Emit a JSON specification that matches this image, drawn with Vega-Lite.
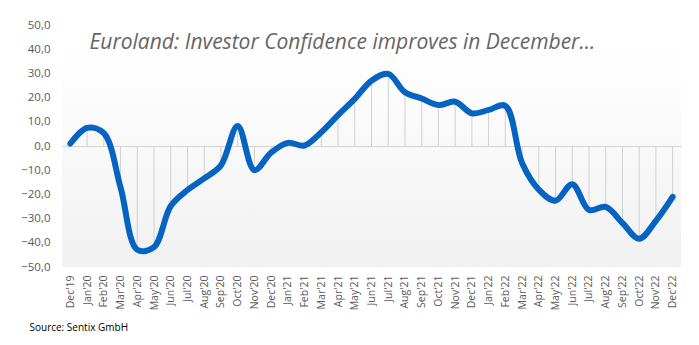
{
  "$schema": "https://vega.github.io/schema/vega-lite/v6.json",
  "width": 619,
  "height": 242,
  "autosize": {"type": "none"},
  "padding": {"left": 62, "top": 25, "right": 18, "bottom": 78},
  "background": "white",
  "config": {
    "view": {
      "stroke": null,
      "fill": {
        "gradient": "linear",
        "x1": 0, "y1": 0, "x2": 0, "y2": 1,
        "stops": [
          {"offset": 0, "color": "#ffffff"},
          {"offset": 0.17, "color": "#fefefe"},
          {"offset": 1, "color": "#f1f1f1"}
        ]
      }
    },
    "axis": {"domain": false, "ticks": false, "grid": false}
  },
  "data": {
    "values": [
      {"m": "Dec'19", "v": 1.0},
      {"m": "Jan'20", "v": 7.5},
      {"m": "Feb'20", "v": 5.3},
      {"m": "Mar'20", "v": -17.1},
      {"m": "Apr'20", "v": -42.9},
      {"m": "May'20", "v": -41.8},
      {"m": "Jun'20", "v": -24.8},
      {"m": "Jul'20", "v": -18.2},
      {"m": "Aug'20", "v": -13.4},
      {"m": "Sep'20", "v": -8.0},
      {"m": "Oct'20", "v": 8.3},
      {"m": "Nov'20", "v": -10.0},
      {"m": "Dec'20", "v": -2.7},
      {"m": "Jan'21", "v": 1.3},
      {"m": "Feb'21", "v": 0.2},
      {"m": "Mar'21", "v": 5.7},
      {"m": "Apr'21", "v": 12.8},
      {"m": "May'21", "v": 19.5},
      {"m": "Jun'21", "v": 27.0},
      {"m": "Jul'21", "v": 29.8},
      {"m": "Aug'21", "v": 22.2},
      {"m": "Sep'21", "v": 19.6},
      {"m": "Oct'21", "v": 16.9},
      {"m": "Nov'21", "v": 18.3},
      {"m": "Dec'21", "v": 13.5},
      {"m": "Jan'22", "v": 14.9},
      {"m": "Feb'22", "v": 16.6},
      {"m": "Mar'22", "v": -7.0},
      {"m": "Apr'22", "v": -18.0},
      {"m": "May'22", "v": -22.6},
      {"m": "Jun'22", "v": -15.8},
      {"m": "Jul'22", "v": -26.4},
      {"m": "Aug'22", "v": -25.2},
      {"m": "Sep'22", "v": -31.8},
      {"m": "Oct'22", "v": -38.3},
      {"m": "Nov'22", "v": -30.9},
      {"m": "Dec'22", "v": -21.0}
    ]
  },
  "encoding": {
    "x": {
      "field": "m",
      "type": "ordinal",
      "sort": null,
      "scale": {"type": "point", "padding": 0.5},
      "axis": {
        "labelAngle": -90,
        "labelFont": "Open Sans",
        "labelFontSize": 10.5,
        "labelColor": "#595959",
        "labelPadding": 8,
        "labelOverlap": false,
        "title": "Source: Sentix GmbH",
        "titleFont": "Open Sans",
        "titleFontSize": 10,
        "titleFontWeight": "normal",
        "titleColor": "#000000",
        "titleAnchor": "start",
        "titleAlign": "left",
        "titleX": -33,
        "titleY": 55
      }
    },
    "y": {
      "field": "v",
      "type": "quantitative",
      "scale": {"domain": [-50, 50], "nice": false, "zero": false},
      "axis": {
        "values": [-50, -40, -30, -20, -10, 0, 10, 20, 30, 40, 50],
        "labelExpr": "replace(format(datum.value, '.1f'), '.', ',')",
        "labelFont": "Open Sans",
        "labelFontSize": 11.5,
        "labelColor": "#595959",
        "labelPadding": 12,
        "labelOverlap": false,
        "grid": true,
        "gridColor": {"condition": {"test": "datum.value === 0", "value": "#d4d4d4"}, "value": "transparent"},
        "gridWidth": 1,
        "title": "Euroland: Investor Confidence improves in December...",
        "titleAngle": 0,
        "titleAlign": "left",
        "titleBaseline": "alphabetic",
        "titleAnchor": "start",
        "titleX": 27,
        "titleY": 23,
        "titleFont": "Open Sans",
        "titleFontStyle": "italic",
        "titleFontWeight": "normal",
        "titleFontSize": 21,
        "titleColor": "#666666"
      }
    }
  },
  "layer": [
    {
      "mark": {"type": "rule", "color": "#d0d0d0", "strokeWidth": 1},
      "encoding": {
        "y2": {"datum": 0}
      }
    },
    {
      "mark": {
        "type": "line",
        "color": "#0563C1",
        "strokeWidth": 6,
        "interpolate": "catmull-rom",
        "strokeCap": "round",
        "strokeJoin": "round"
      }
    }
  ]
}
